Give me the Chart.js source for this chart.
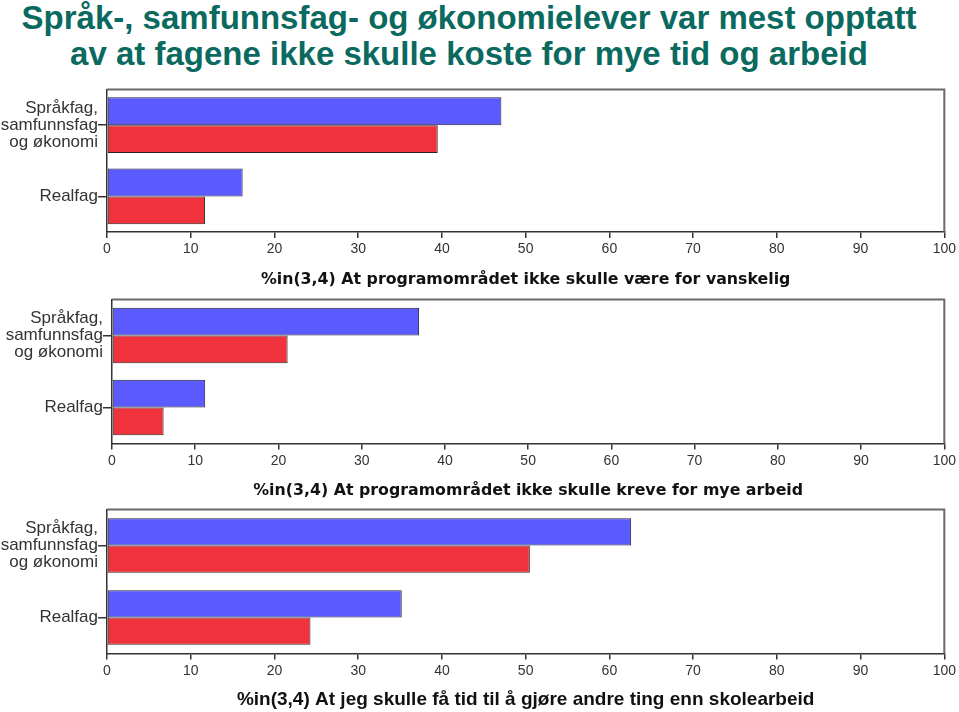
<!DOCTYPE html>
<html>
<head>
<meta charset="utf-8">
<script src="https://cdn.jsdelivr.net/npm/chart.js@4.4.1/dist/chart.umd.min.js"></script>
<style>
  body { margin: 0; background: #fff; width: 959px; height: 712px; overflow: hidden; position: relative; }
  #title {
    position: absolute; left: 0; top: 0; width: 938px; text-align: center;
    font-family: "Liberation Sans", Arial, sans-serif; font-weight: bold;
    font-size: 33px; line-height: 36px; color: #0b6a60;
  }
  .box { position: absolute; left: 0; width: 959px; }
</style>
</head>
<body>
<div id="title">Språk-, samfunnsfag- og økonomielever var mest opptatt<br>av at fagene ikke skulle koste for mye tid og arbeid</div>
<div class="box" style="top:80.5px;height:209px"><canvas id="chart1"></canvas></div>
<div class="box" style="top:290.5px;height:210.5px"><canvas id="chart2"></canvas></div>
<div class="box" style="top:500.5px;height:210.5px"><canvas id="chart3"></canvas></div>
<script>
// data
const categories = [["Språkfag,", "samfunnsfag", "og økonomi"], "Realfag"];

const blueVanskelig = [47.1, 16.2];
const redVanskelig = [39.5, 11.7];

const blueArbeid = [36.9, 11.2];
const redArbeid = [21.1, 6.2];

const blueTid = [62.6, 35.2];
const redTid = [50.5, 24.3];

const titleVanskelig = "%in(3,4) At programområdet ikke skulle være for vanskelig";
const titleArbeid = "%in(3,4) At programområdet ikke skulle kreve for mye arbeid";
const titleTid = "%in(3,4) At jeg skulle få tid til å gjøre andre ting enn skolearbeid";

const xMin = 0;
const xMax = 100;
const xStep = 10;

// top and right frame line
const framePlugin = {
  id: "frame",
  afterDraw(chart) {
    const a = chart.chartArea;
    const ctx = chart.ctx;
    ctx.save();
    ctx.strokeStyle = "#6a6a6a";
    ctx.lineWidth = 2;
    ctx.beginPath();
    ctx.moveTo(a.left, a.top);
    ctx.lineTo(a.right, a.top);
    ctx.lineTo(a.right, a.bottom);
    ctx.stroke();
    ctx.restore();
  },
};

function graphIt(canvasId, blue, red, xTitle, leftWidth, catPct, titleFont, titlePad) {
  const ctx = document.getElementById(canvasId).getContext("2d");
  return new Chart(ctx, {
    type: "bar",
    data: {
      labels: categories,
      datasets: [
        {
          label: "Gruppe 1",
          data: blue,
          backgroundColor: "#5a5aff",
          borderColor: "#222230",
          borderWidth: 1,
          borderSkipped: false,
        },
        {
          label: "Gruppe 2",
          data: red,
          backgroundColor: "#f0323c",
          borderColor: "#302222",
          borderWidth: 1,
          borderSkipped: false,
        },
      ],
    },
    options: {
      indexAxis: "y",
      responsive: true,
      maintainAspectRatio: false,
      animation: false,
      layout: { padding: { top: 0, right: 14, bottom: 0, left: 0 } },
      datasets: { bar: { categoryPercentage: catPct, barPercentage: 1.0 } },
      plugins: { legend: { display: false }, tooltip: { enabled: false } },
      scales: {
        x: {
          min: xMin,
          max: xMax,
          ticks: {
            stepSize: xStep,
            color: "#333",
            padding: 3,
            maxRotation: 0,
            font: { family: "Liberation Sans", size: 14 },
          },
          grid: { drawOnChartArea: false, tickLength: 6, color: "#333", lineWidth: 1.5 },
          border: { display: true, color: "#333", width: 1.5 },
          title: {
            display: true,
            text: xTitle,
            color: "#111",
            padding: { top: 0, bottom: titlePad },
            font: titleFont,
          },
          afterFit(scale) { scale.height = 58; },
        },
        y: {
          ticks: {
            color: "#333",
            padding: 0,
            font: { family: "Liberation Sans", size: 17, lineHeight: 1.0 },
          },
          grid: { drawOnChartArea: false, offset: false, tickLength: 9, color: "#333", lineWidth: 1.5 },
          border: { display: true, color: "#333", width: 1.5 },
          afterFit(scale) { scale.width = leftWidth; },
        },
      },
    },
    plugins: [framePlugin],
  });
}

graphIt("chart1", blueVanskelig, redVanskelig, titleVanskelig, 107, 0.78,
  { family: "DejaVu Sans", size: 15.8, weight: "bold", lineHeight: 1.2 }, 1);
graphIt("chart2", blueArbeid, redArbeid, titleArbeid, 112, 0.77,
  { family: "DejaVu Sans", size: 15.8, weight: "bold", lineHeight: 1.2 }, 1);
graphIt("chart3", blueTid, redTid, titleTid, 107, 0.76,
  { family: "Liberation Sans", size: 19, weight: "bold", lineHeight: 1.2 }, 0);
</script>
</body>
</html>
